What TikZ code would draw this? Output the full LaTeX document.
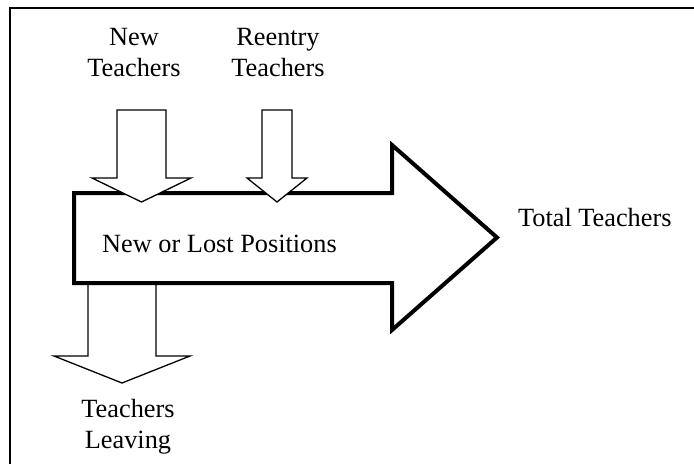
\documentclass[tikz,border=0pt]{standalone}
\usepackage{fontspec}
\setmainfont{Liberation Serif}
\usetikzlibrary{positioning}

\begin{document}
\begin{tikzpicture}[x=1pt, y=-1pt,
  lbl/.style={align=center, inner sep=0pt, font=\fontsize{26.3}{31}\selectfont},
  flow/.style={draw, line width=4pt, fill=white, miter limit=10},
  inflow/.style={draw, line width=1.3pt, fill=white, miter limit=10},
  frame/.style={draw, line width=2pt}
]
\useasboundingbox (0,0) rectangle (694,464);

% frame (open to the right and bottom)
\draw[frame] (10,464) -- (10,8) -- (694,8);

% outflow, drawn first so the stock covers its top
\draw[inflow] (88,283) -- (88,356) -- (54,356) -- (122,383) -- (190,356) -- (156,356) -- (156,283);

% stock arrow
\draw[flow] (74,193) -- (392,193) -- (392,145) -- (497,237.5) -- (392,330) -- (392,283) -- (74,283) -- cycle;

% inflows
\draw[inflow] (117,110) -- (166,110) -- (166,178) -- (191,178) -- (141.5,202) -- (92,178) -- (117,178) -- cycle;
\draw[inflow] (262,110) -- (292,110) -- (292,178) -- (307,178) -- (277,202) -- (247,178) -- (262,178) -- cycle;

% labels (base = baseline of the last line)
\node[lbl, anchor=base] (new) at (134,76) {New\\Teachers};
\node[lbl, anchor=base] (reentry) at (278,76) {Reentry\\Teachers};
\node[lbl, anchor=base] (positions) at (219.5,252) {New or Lost Positions};
\node[lbl, anchor=base west] (total) at (518,226) {Total Teachers};
\node[lbl, anchor=base] (leaving) at (128,448) {Teachers\\Leaving};

\end{tikzpicture}
\end{document}
